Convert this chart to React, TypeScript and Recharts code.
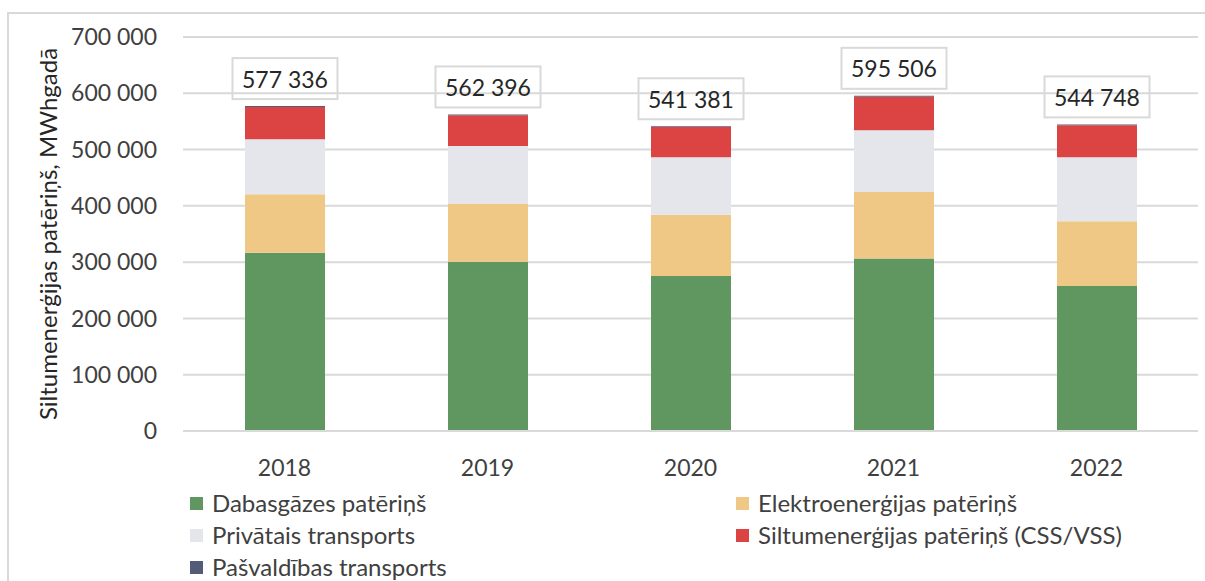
import React from "react";
import { BarChart, Bar, XAxis, YAxis, CartesianGrid, LabelList } from "recharts";

const years = ["2018", "2019", "2020", "2021", "2022"];
const gas = [316500, 300500, 275200, 306600, 257400];
const electricity = [104200, 103700, 108800, 118200, 115400];
const privateTransport = [97700, 102300, 102400, 109600, 113600];
const heat = [57400, 54400, 53500, 59600, 56800];
const municipalTransport = [1500, 1500, 1500, 1500, 1500];
const totals = [577336, 562396, 541381, 595506, 544748];
const yTicks = [0, 100000, 200000, 300000, 400000, 500000, 600000, 700000];

const series = [
  { key: "gas", name: "Dabasgāzes patēriņš", color: "#609660" },
  { key: "electricity", name: "Elektroenerģijas patēriņš", color: "#f0c886" },
  { key: "privateTransport", name: "Privātais transports", color: "#e5e6ec" },
  { key: "heat", name: "Siltumenerģijas patēriņš (CSS/VSS)", color: "#dc4343" },
  { key: "municipalTransport", name: "Pašvaldības transports", color: "#525c78" },
];

const data = years.map((year, i) => ({
  year,
  gas: gas[i],
  electricity: electricity[i],
  privateTransport: privateTransport[i],
  heat: heat[i],
  municipalTransport: municipalTransport[i],
}));

const FONT = "Lato, 'Open Sans', sans-serif";
const GRID = "#d9d9d9";
const TEXT = "#404040";

function fmt(v: number) {
  return String(v).replace(/\B(?=(\d{3})+(?!\d))/g, " ");
}

function TotalLabel(props: any) {
  const { x, y, width, index } = props;
  const cx = x + width / 2;
  const boxW = 105;
  const boxH = 41;
  const bottom = y - 7;
  return (
    <g>
      <rect x={cx - boxW / 2} y={bottom - boxH} width={boxW} height={boxH} fill="none" stroke={GRID} strokeWidth={2} />
      <text x={cx} y={bottom - boxH / 2} textAnchor="middle" dominantBaseline="central" fontSize={23} fill="#262626" fontFamily={FONT}>
        {fmt(totals[index])}
      </text>
    </g>
  );
}

function LegendBox() {
  return (
    <div
      style={{
        position: "absolute",
        left: 0,
        top: 487,
        display: "grid",
        gridTemplateColumns: "546px auto",
        paddingLeft: 190,
        fontFamily: FONT,
        fontSize: 24,
        color: TEXT,
        lineHeight: "32px",
      }}
    >
      {series.map((s) => (
        <div key={s.key} style={{ display: "flex", alignItems: "center" }}>
          <span style={{ width: 13, height: 13, background: s.color, marginRight: 9, display: "inline-block" }} />
          <span>{s.name}</span>
        </div>
      ))}
    </div>
  );
}

function YTitle(props: any) {
  const { viewBox } = props;
  const x = viewBox.x + 39;
  const y = viewBox.y + viewBox.height / 2;
  return (
    <text x={x} y={y} transform={`rotate(-90, ${x}, ${y})`} textAnchor="middle" dominantBaseline="central" fontSize={24} fill="#262626" fontFamily={FONT}>
      Siltumenerģijas patēriņš, MWhgadā
    </text>
  );
}

export default function App() {
  return (
    <div style={{ position: "absolute", left: 0, top: 0, width: 1205, height: 581, overflow: "hidden", background: "#fff" }}>
      <div style={{ position: "absolute", left: 7, top: 12, width: 1400, height: 800, border: `2px solid ${GRID}` }} />
      <BarChart width={1205} height={581} data={data} margin={{ top: 37, right: 7, bottom: 120, left: 8 }}>
        <CartesianGrid vertical={false} stroke={GRID} strokeWidth={2} />
        <XAxis
          dataKey="year"
          axisLine={{ stroke: GRID, strokeWidth: 2 }}
          tickLine={false}
          tickMargin={23}
          tick={{ fontSize: 23, fill: TEXT, fontFamily: FONT }}
        />
        <YAxis
          width={175}
          domain={[0, 700000]}
          ticks={yTicks}
          axisLine={false}
          tickLine={false}
          tickMargin={20}
          tickFormatter={fmt}
          tick={{ fontSize: 23, fill: TEXT, fontFamily: FONT }}
          label={{ content: <YTitle /> }}
        />
        {series.map((s, i) => (
          <Bar key={s.key} dataKey={s.key} name={s.name} stackId="a" fill={s.color} barSize={80} isAnimationActive={false}>
            {i === series.length - 1 ? <LabelList dataKey={s.key} content={<TotalLabel />} /> : null}
          </Bar>
        ))}
      </BarChart>
      <LegendBox />
    </div>
  );
}
